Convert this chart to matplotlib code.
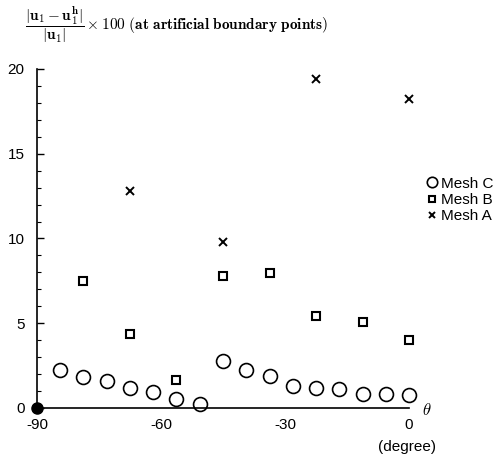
import matplotlib
matplotlib.use("Agg")
import matplotlib.pyplot as plt
from matplotlib.ticker import MultipleLocator

plt.rcParams['mathtext.fontset'] = 'cm'
plt.rcParams['font.family'] = ['Liberation Sans', 'DejaVu Sans']

# theta (degree) and error (%) at artificial boundary points
theta_c = [-84.375, -78.75, -73.125, -67.5, -61.875, -56.25, -50.625, -45.0,
           -39.375, -33.75, -28.125, -22.5, -16.875, -11.25, -5.625, 0.0]
err_c = [2.22, 1.85, 1.62, 1.18, 0.95, 0.55, 0.24, 2.78,
         2.27, 1.89, 1.30, 1.20, 1.12, 0.80, 0.80, 0.77]

theta_b = [-78.75, -67.5, -56.25, -45.0, -33.75, -22.5, -11.25, 0.0]
err_b = [7.5, 4.35, 1.65, 7.8, 7.95, 5.45, 5.08, 4.0]

theta_a = [-67.5, -45.0, -22.5, 0.0]
err_a = [12.8, 9.78, 19.4, 18.2]

fig = plt.figure(figsize=(5.0, 4.63), dpi=100)
ax = fig.add_axes([0.074, 0.1188, 0.744, 0.7322])

ax.plot(theta_c, err_c, 'o', ms=10, mfc='white', mec='black', mew=1.2,
        ls='none', label='Mesh C', clip_on=False)
ax.plot(theta_b, err_b, 's', ms=5.5, mfc='white', mec='black', mew=1.5,
        ls='none', label='Mesh B', clip_on=False)
ax.plot(theta_a, err_a, 'x', ms=6, mec='black', mew=1.4,
        ls='none', label='Mesh A', clip_on=False)
ax.plot([-90], [0], 'o', ms=8, color='black', clip_on=False, zorder=5)

ax.set_xlim(-90, 0)
ax.set_ylim(0, 20)
ax.spines['top'].set_visible(False)
ax.spines['right'].set_visible(False)
ax.spines['left'].set_linewidth(1.2)
ax.spines['bottom'].set_linewidth(1.2)

ax.set_xticks([-90, -60, -30, 0])
ax.set_xticklabels(['-90', '-60', '-30', '0'])
ax.yaxis.set_major_locator(MultipleLocator(5))
ax.yaxis.set_minor_locator(MultipleLocator(1))
ax.tick_params(axis='y', which='major', direction='in', length=5, width=1,
               labelsize=11, pad=9)
ax.tick_params(axis='y', which='minor', direction='in', length=3, width=0.8)
ax.tick_params(axis='x', which='major', direction='in', length=0,
               labelsize=11, pad=7)

fig.text(0.05, 0.945,
         r'$\dfrac{|\mathbf{u_1} - \mathbf{u_1^h}|}{|\mathbf{u_1}|} \times \mathbf{100\ (at\ artificial\ boundary\ points)}$',
         fontsize=11, ha='left', va='center')
fig.text(0.845, 0.115, r'$\theta$', fontsize=12, ha='left', va='center')
fig.text(0.814, 0.035, '(degree)', fontsize=11, ha='center', va='center')

ax.legend(loc='upper left', bbox_to_anchor=(0.84, 0.635),
          bbox_transform=fig.transFigure, frameon=False, fontsize=11,
          handlelength=0.6, handletextpad=0.3, labelspacing=0.15,
          markerscale=0.75, borderpad=0)

fig.savefig('out.png', dpi=100)
